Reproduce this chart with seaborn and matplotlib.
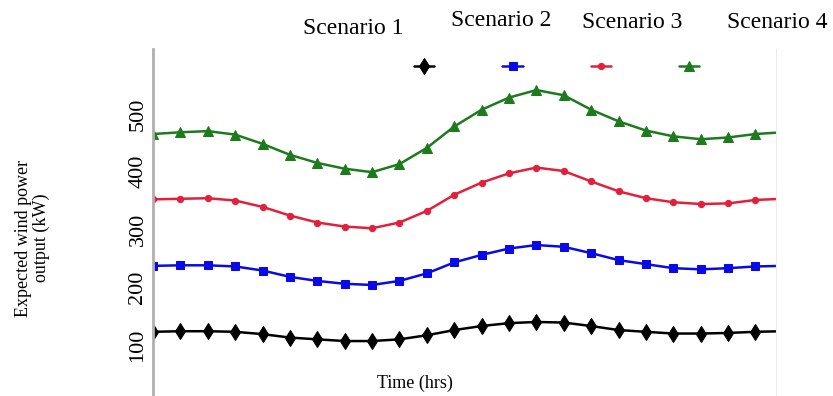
import numpy as np
import pandas as pd
import matplotlib
matplotlib.use("Agg")
import matplotlib.pyplot as plt
import matplotlib.transforms as mtransforms
import seaborn as sns

sns.set_style("white")
plt.rcParams['font.family'] = ['Liberation Serif', 'DejaVu Serif']
plt.rcParams['text.color'] = 'black'
plt.rcParams['axes.labelcolor'] = 'black'
plt.rcParams['ytick.labelcolor'] = 'black'

# hours 1..24 (the last one sits just past the cropped right edge)
hours = list(range(1, 25))
scenarios = ["Scenario 1", "Scenario 2", "Scenario 3", "Scenario 4"]

s1 = [111, 112, 112, 111, 107, 101, 98, 95, 95, 98, 105, 114, 121, 126, 128, 127,
      121, 114, 111, 108, 108, 109, 111, 112]
s2 = [225, 226, 226, 224, 217, 206, 199, 194, 192, 199, 212, 231, 244, 255, 261, 258,
      247, 235, 228, 221, 219, 221, 224, 225]
s3 = [340, 341, 342, 338, 327, 312, 300, 293, 290, 300, 320, 348, 369, 385, 395, 389,
      371, 354, 342, 335, 332, 333, 339, 341]
s4 = [453, 456, 458, 452, 436, 417, 403, 393, 387, 401, 429, 466, 495, 516, 529, 520,
      495, 475, 459, 449, 444, 447, 453, 456]

yticks = [100, 200, 300, 400, 500]

df = pd.DataFrame({"hour": hours * 4,
                   "power": s1 + s2 + s3 + s4,
                   "scenario": sum([[s] * len(hours) for s in scenarios], [])})

colors = ["#000000", "#0a0ae6", "#e3203c", "#1d7a1d"]
markers = ["d", "s", "o", "^"]
msizes = [8, 6, 4.5, 7]

fig = plt.figure(figsize=(8.33, 3.96), dpi=100)
ax = fig.add_axes([153 / 833, 0.0, (776 - 153) / 833, (396 - 49) / 396])

handles = []
for i, sc in enumerate(scenarios):
    sub = df[df["scenario"] == sc]
    sns.lineplot(data=sub, x="hour", y="power", ax=ax, color=colors[i],
                 marker=markers[i], markersize=msizes[i], markeredgecolor=colors[i],
                 linewidth=1.8, legend=False)
    handles.append(ax.lines[-1])

ax.set_xlim(1, 23.75)
ax.set_ylim(0, 600)
ax.set_yticks(yticks)
ax.set_yticklabels([str(t) for t in yticks], rotation=90, va="center", fontsize=16)
ax.set_xticks([])
ax.tick_params(axis="y", direction="in", length=5, color="#999999", pad=4)
offset = mtransforms.ScaledTranslation(0, -7 / 100, fig.dpi_scale_trans)
for lab in ax.get_yticklabels():
    lab.set_transform(lab.get_transform() + offset)

for side in ["top", "bottom"]:
    ax.spines[side].set_visible(False)
ax.spines["left"].set_color("#b0b0b0")
ax.spines["left"].set_linewidth(2)
ax.spines["right"].set_color("#ececec")

ax.set_xlabel("Time (hrs)", fontsize=13)
ax.xaxis.set_label_coords(0.42, 0.062)
ax.set_ylabel("Expected wind power\noutput (kW)", fontsize=13, linespacing=1.05)
ax.yaxis.set_label_coords(-0.165, 0.455)

ax.legend(handles, [""] * 4, ncol=4, loc="center", bbox_to_anchor=(0.649, 0.948),
          frameon=False, fontsize=10, handlelength=1.45, handletextpad=0.1,
          columnspacing=4.8)

label_pos = [(353, 28), (501, 21), (632, 22), (777, 22)]
for sc, (px, py) in zip(scenarios, label_pos):
    fig.text(px / 833, 1 - py / 396, sc, ha="center", va="center", fontsize=17)

fig.savefig("out.png", dpi=100)
